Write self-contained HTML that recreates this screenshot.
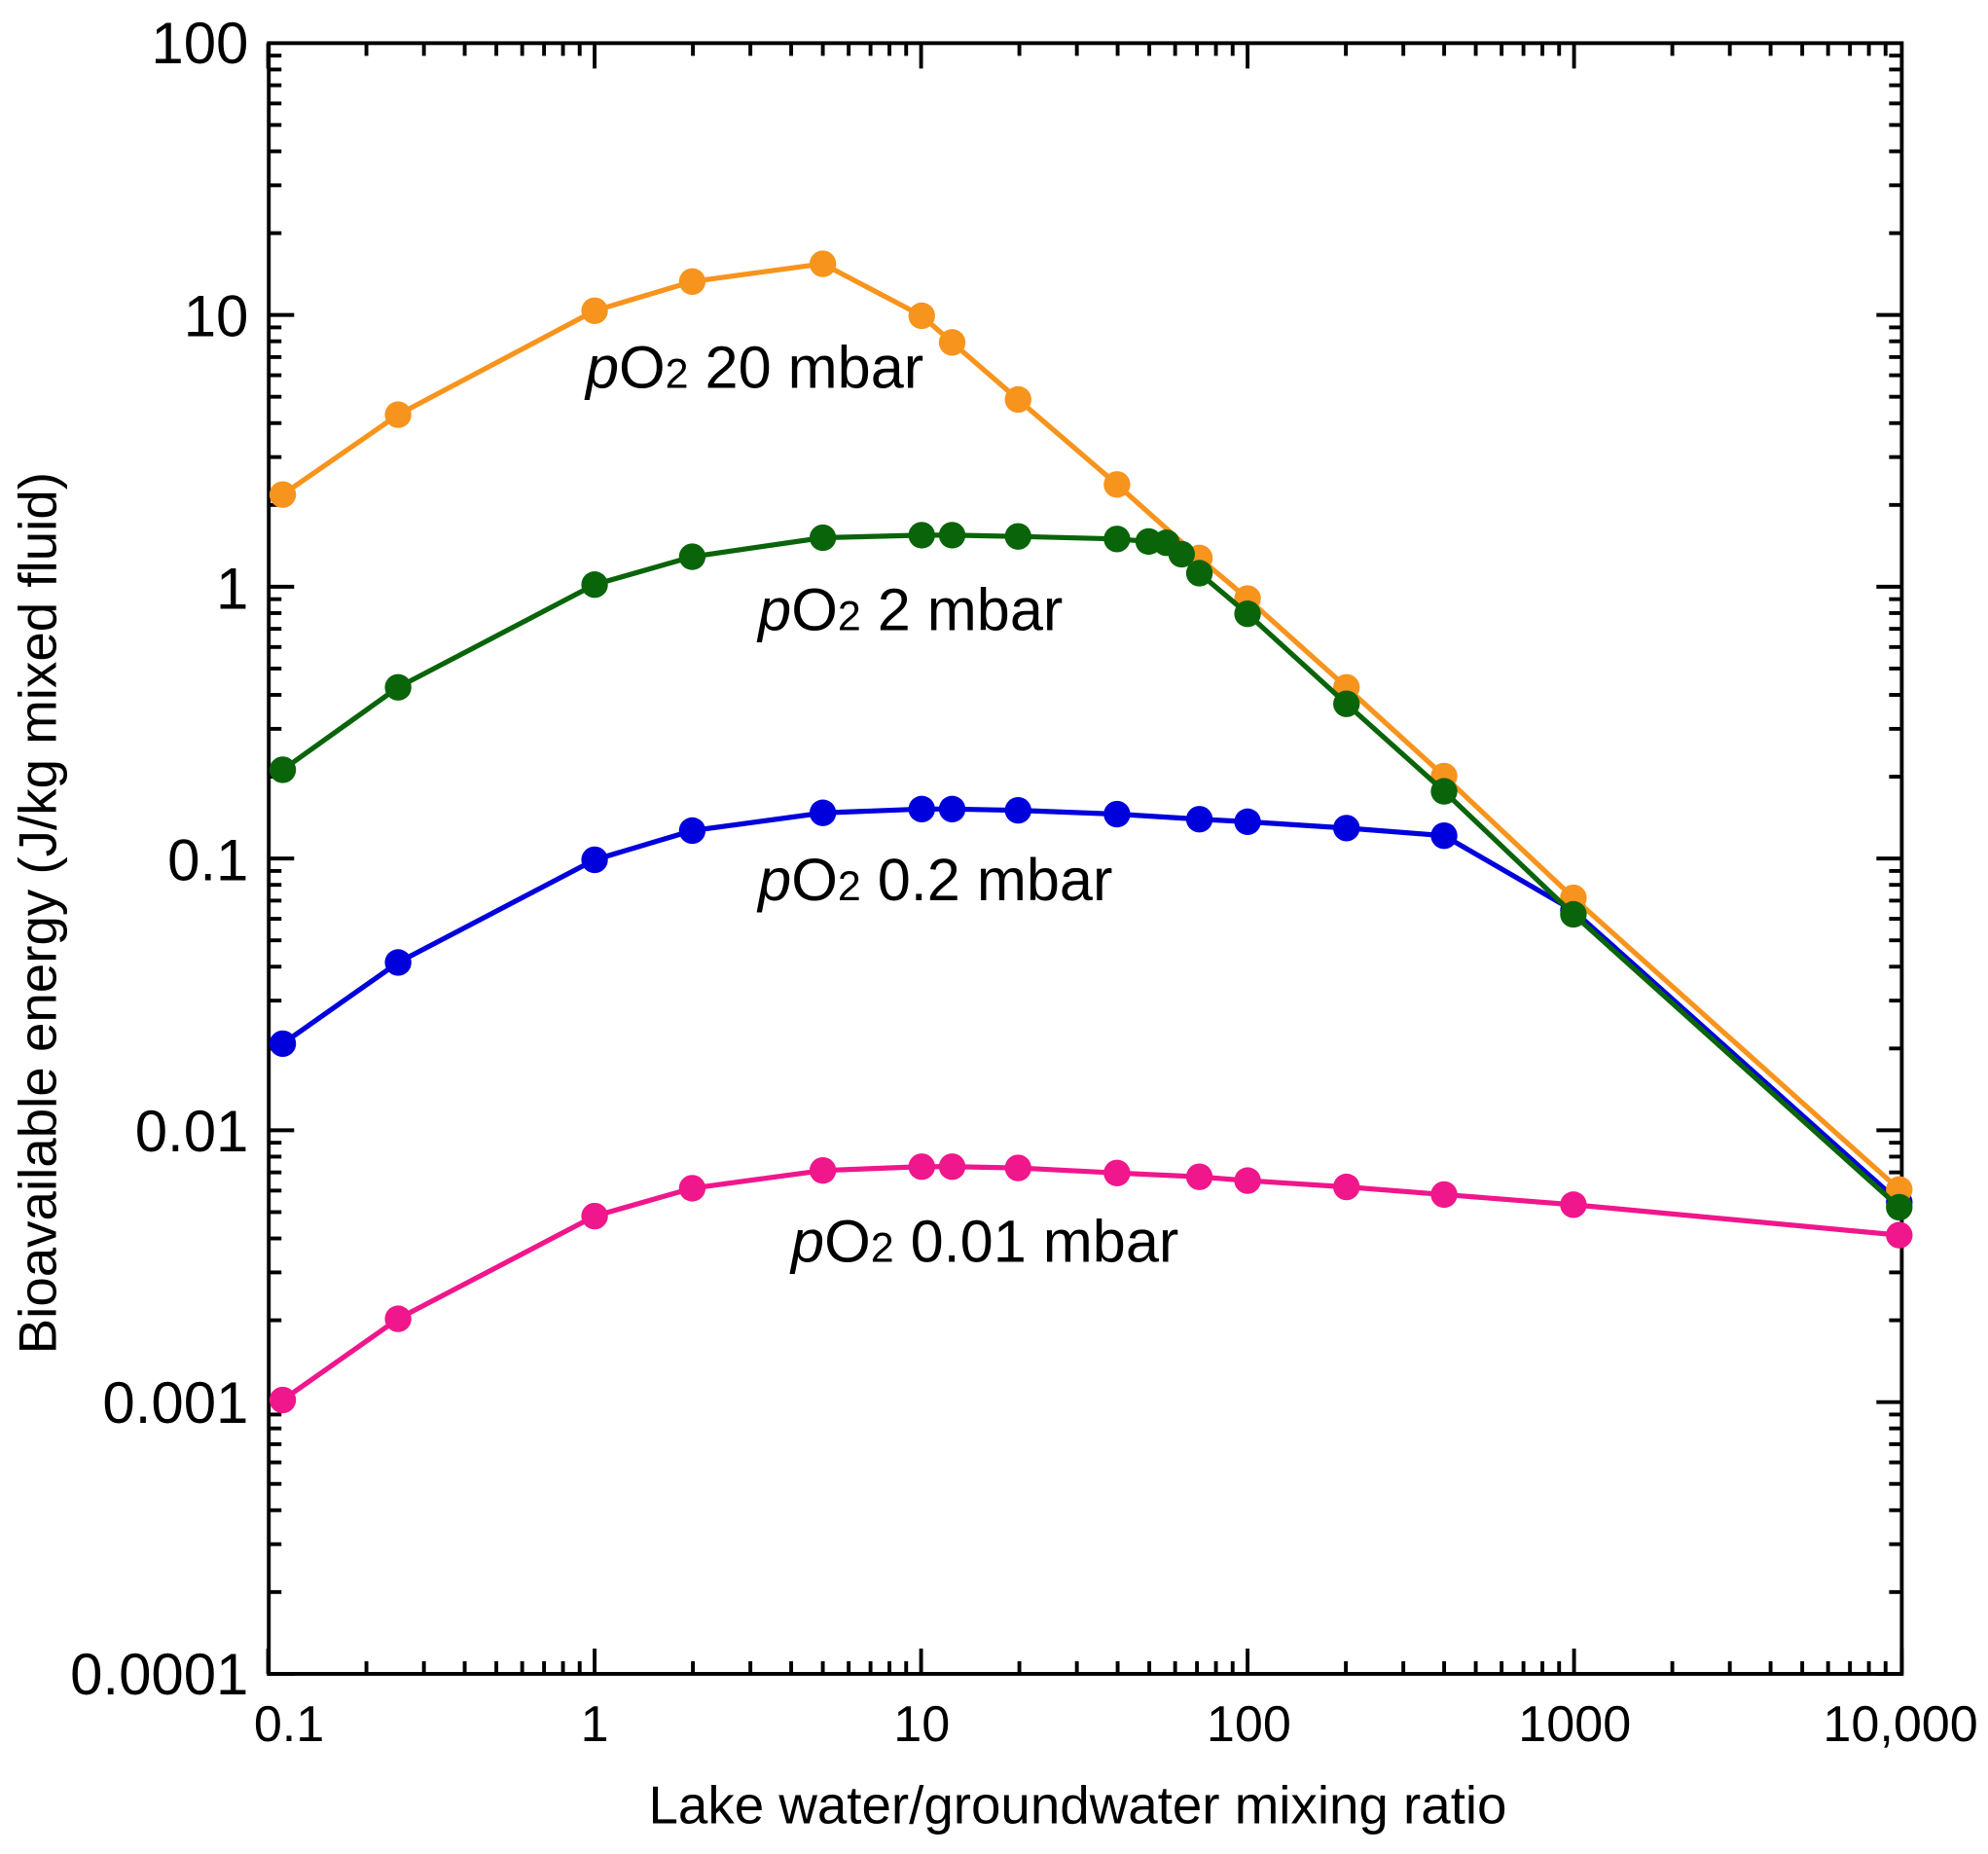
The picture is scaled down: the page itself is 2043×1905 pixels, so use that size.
<!DOCTYPE html>
<html><head><meta charset="utf-8"><style>
html,body{margin:0;padding:0;background:#fff;}
svg{display:block;}
text{font-family:"Liberation Sans",sans-serif;fill:#000;}
</style></head><body>
<svg id="s" width="2043" height="1905" viewBox="0 0 1568 1462" xmlns="http://www.w3.org/2000/svg">
<g id="ticks" stroke="#000" stroke-width="3"></g>
<rect x="212" y="34" width="1288" height="1286" fill="none" stroke="#000" stroke-width="3"/>
<g font-size="46" text-anchor="end">
<text x="196" y="50">100</text>
<text x="196" y="265">10</text>
<text x="196" y="480">1</text>
<text x="196" y="694">0.1</text>
<text x="196" y="908">0.01</text>
<text x="196" y="1122">0.001</text>
<text x="196" y="1336">0.0001</text>
</g>
<g font-size="40" text-anchor="middle">
<text x="228" y="1373">0.1</text>
<text x="469" y="1373">1</text>
<text x="727" y="1373">10</text>
<text x="985" y="1373">100</text>
<text x="1242" y="1373">1000</text>
<text x="1499" y="1373">10,000</text>
<text x="850" y="1438" font-size="42">Lake water/groundwater mixing ratio</text>
<text transform="translate(44,720) rotate(-90)" font-size="42">Bioavailable energy (J/kg mixed fluid)</text>
</g>
<g id="series"></g>
<g font-size="47">
<text x="462" y="306"><tspan font-style="italic">p</tspan>O<tspan font-size="33">2</tspan>  20 mbar</text>
<text x="598" y="497"><tspan font-style="italic">p</tspan>O<tspan font-size="33">2</tspan>  2 mbar</text>
<text x="598" y="710"><tspan font-style="italic">p</tspan>O<tspan font-size="33">2</tspan>  0.2 mbar</text>
<text x="624" y="995"><tspan font-style="italic">p</tspan>O<tspan font-size="33">2</tspan>  0.01 mbar</text>
</g>
</svg>
<script>
var NS="http://www.w3.org/2000/svg";
var tg=document.getElementById("ticks");
function ln(x1,y1,x2,y2){var l=document.createElementNS(NS,"line");l.setAttribute("x1",x1);l.setAttribute("y1",y1);l.setAttribute("x2",x2);l.setAttribute("y2",y2);tg.appendChild(l);}
var X0=211.5,DX=257.5,Y0=34,DY=214.33;
for(var d=0;d<5;d++){for(var m=1;m<10;m++){var x=X0+DX*(d+Math.log10(m));var L=(m==1)?20:10;ln(x,1320,x,1320-L);ln(x,34,x,34+L);}}
ln(1500,1320,1500,1300);
for(var d=0;d<6;d++){for(var m=1;m<10;m++){var y=Y0+DY*(d+1-Math.log10(m));if(y>1320.5)continue;var L=(m==1)?20:10;ln(212,y,212+L,y);ln(1500,y,1500-L,y);}}
var S=[
["#0000dd",[[223,823],[314,759],[469,678],[546,655],[649,641],[727,638],[751,638],[803,639],[881,642],[946,646],[984,648],[1062,653],[1139,659],[1241,718],[1498,948]]],
["#f7941d",[[223,390],[314,327],[469,245],[546,222],[649,208],[727,249],[751,270],[803,315],[881,382],[946,440],[984,472],[1062,542],[1139,612],[1241,708],[1498,938]]],
["#0a640a",[[223,607],[314,542],[469,461],[546,439],[649,424],[727,422],[751,422],[803,423],[881,425],[906,427],[920,428],[932,437],[946,452],[984,484],[1062,555],[1139,624],[1241,721],[1498,952]]],
["#f0168c",[[223,1104],[314,1040],[469,959],[546,937],[649,923],[727,920],[751,920],[803,921],[881,925],[946,928],[984,931],[1062,936],[1139,942],[1241,950],[1498,974]]]
];
var sg=document.getElementById("series");
S.forEach(function(s){var p=document.createElementNS(NS,"polyline");p.setAttribute("points",s[1].map(function(q){return q.join(",")}).join(" "));p.setAttribute("fill","none");p.setAttribute("stroke",s[0]);p.setAttribute("stroke-width","4");sg.appendChild(p);
s[1].forEach(function(q){var c=document.createElementNS(NS,"circle");c.setAttribute("cx",q[0]);c.setAttribute("cy",q[1]);c.setAttribute("r","10.5");c.setAttribute("fill",s[0]);sg.appendChild(c);});});
</script>
</body></html>
